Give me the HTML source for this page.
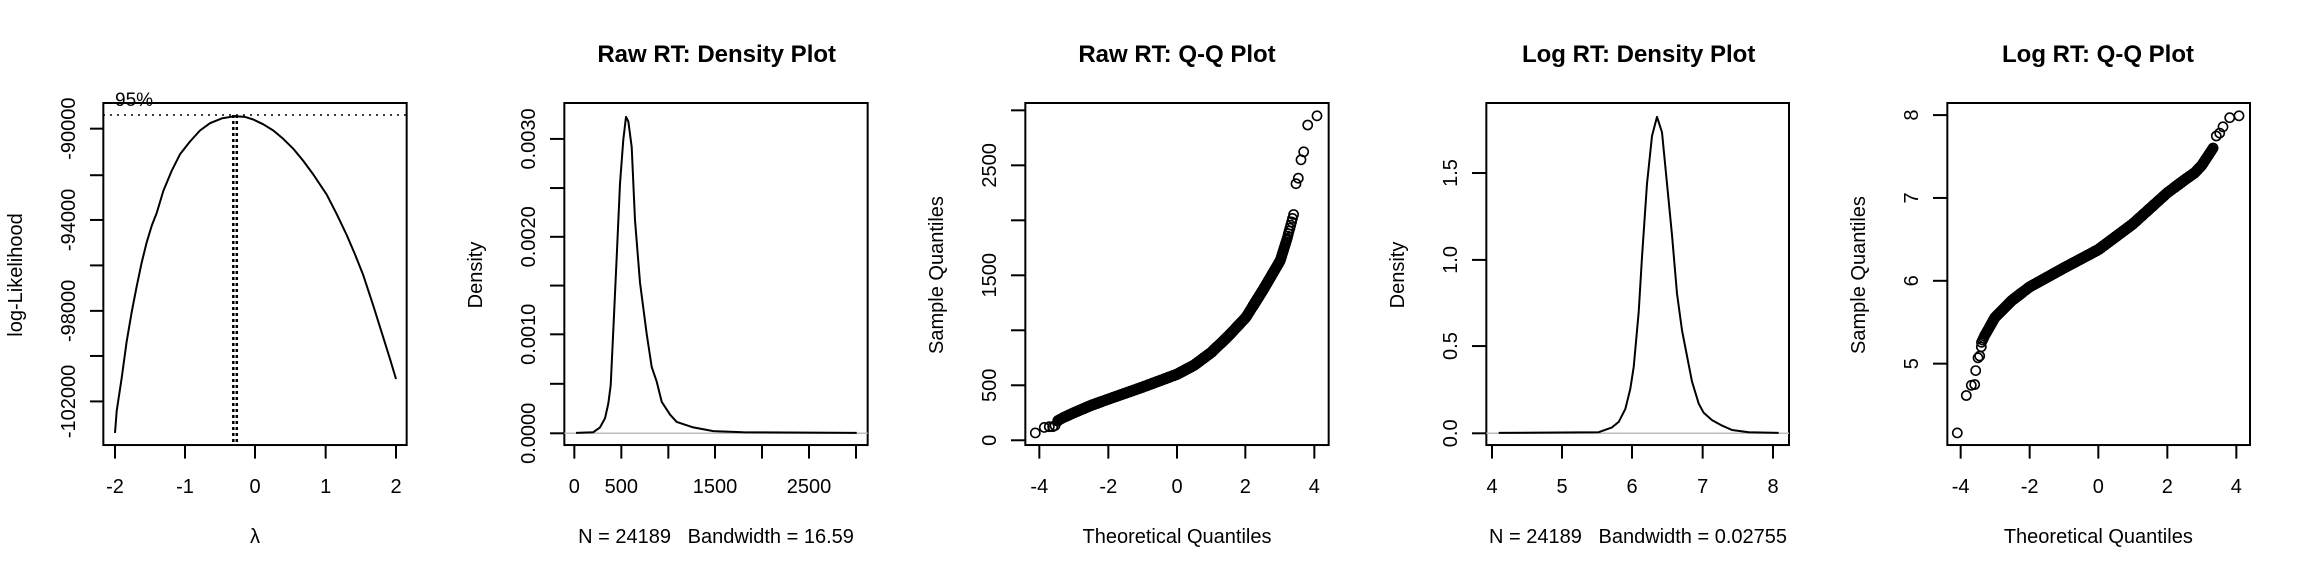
<!DOCTYPE html>
<html><head><meta charset="utf-8"><style>
html,body{margin:0;padding:0;background:#fff;}
svg{display:block;}
text{font-family:"Liberation Sans",Arial,sans-serif;fill:#000;}
</style></head><body>
<svg id="s" xmlns="http://www.w3.org/2000/svg" width="2304" height="576" viewBox="0 0 2304 576"></svg>
<script>
var s=document.getElementById('s');var out='';
function Y(zy){return 103+(zy-280)*0.3666;}
function X(off,zx){return off+zx/3;}
function box(off,l,r){out+='<rect x="'+X(off,l)+'" y="103" width="'+(r-l)/3+'" height="'+(Y(1213)-103)+'" fill="none" stroke="#000" stroke-width="2"/>';}
function xt(off,zx,lab){var x=X(off,zx);out+='<line x1="'+x+'" y1="'+Y(1213)+'" x2="'+x+'" y2="'+Y(1250)+'" stroke="#000" stroke-width="2"/>';if(lab!==null)out+='<text x="'+x+'" y="493" font-size="20" text-anchor="middle">'+lab+'</text>';}
function yt(off,zy,lab,bl){var y=Y(zy),x0=X(off,270),x1=X(off,bl);out+='<line x1="'+x0+'" y1="'+y+'" x2="'+x1+'" y2="'+y+'" stroke="#000" stroke-width="2"/>';if(lab!==null){var x=off+75;out+='<text x="'+x+'" y="'+y+'" font-size="20" text-anchor="middle" transform="rotate(-90 '+x+' '+y+')">'+lab+'</text>';}}
function ylab(off,t){var x=off+22,y=275;out+='<text x="'+x+'" y="'+y+'" font-size="20" text-anchor="middle" transform="rotate(-90 '+x+' '+y+')">'+t+'</text>';}
function title(off,cx,t){out+='<text x="'+X(off,cx)+'" y="62" font-size="24" font-weight="bold" text-anchor="middle">'+t+'</text>';}
function xlab(off,cx,t){out+='<text x="'+X(off,cx)+'" y="543" font-size="20" text-anchor="middle">'+t+'</text>';}
function poly(off,pts){var p=pts.map(function(a){return X(off,a[0]).toFixed(1)+','+Y(a[1]).toFixed(1);}).join(' ');out+='<polyline points="'+p+'" fill="none" stroke="#000" stroke-width="2" stroke-linejoin="round"/>';}
// Panel 1
var o=0;box(o,310,1220);
[[345,'-2'],[555,'-1'],[765,'0'],[977,'1'],[1188,'2']].forEach(function(a){xt(o,a[0],a[1]);});
[[350,'-90000'],[477,null],[599,'-94000'],[723,null],[847,'-98000'],[970,null],[1094,'-102000']].forEach(function(a){yt(o,a[0],a[1],310);});
poly(o,[[345,1180],[350,1120],[365,1030],[380,930],[395,850],[410,780],[425,715],[440,660],[455,615],[470,580],[490,520],[515,465],[540,420],[570,385],[600,355],[630,335],[665,322],[705,316],[735,318],[760,325],[790,338],[820,355],[850,378],[880,405],[910,438],[940,475],[980,530],[1010,583],[1040,640],[1065,693],[1090,750],[1120,833],[1150,920],[1170,978],[1188,1033]]);
out+='<line x1="103" y1="115" x2="407" y2="115" stroke="#000" stroke-width="1.5" stroke-dasharray="2,5"/>';
out+='<line x1="233.3" y1="115" x2="233.3" y2="446" stroke="#000" stroke-width="2.5" stroke-dasharray="3,3"/>';
out+='<line x1="236.8" y1="115" x2="236.8" y2="446" stroke="#000" stroke-width="2.5" stroke-dasharray="3,3"/>';
out+='<text x="115" y="106" font-size="19">95%</text>';
ylab(o,'log-Likelihood');
out+='<text x="255" y="543" font-size="20" text-anchor="middle">λ</text>';
// Panel 2
o=460;box(o,313,1223);title(o,770,'Raw RT: Density Plot');
[[343,'0'],[484,'500'],[625,null],[765,'1500'],[906,null],[1047,'2500'],[1188,null]].forEach(function(a){xt(o,a[0],a[1]);});
[[1181,'0.0000'],[1046,null],[911,'0.0010'],[778,null],[645,'0.0020'],[512,null],[378,'0.0030']].forEach(function(a){yt(o,a[0],a[1],313);});
out+='<line x1="'+X(o,313)+'" y1="'+Y(1181)+'" x2="'+X(o,1223)+'" y2="'+Y(1181)+'" stroke="#bebebe" stroke-width="1.5"/>';
poly(o,[[348,1180],[400,1178],[420,1165],[435,1140],[445,1100],[452,1050],[460,900],[470,700],[480,500],[490,380],[498,318],[505,330],[515,400],[525,600],[540,770],[560,910],[575,1000],[590,1040],[605,1095],[630,1130],[650,1150],[700,1165],[760,1175],[850,1178],[1190,1180]]);
ylab(o,'Density');xlab(o,768,'N = 24189&#160;&#160;&#160;Bandwidth = 16.59');
// QQ helper
function qnorm(p){var a=[-39.69683028665376,220.9460984245205,-275.9285104469687,138.3577518672690,-30.66479806614716,2.506628277459239],b=[-54.47609879822406,161.5858368580409,-155.6989798598866,66.80131188771972,-13.28068155288572],c=[-7.784894002430293e-03,-0.3223964580411365,-2.400758277161838,-2.549732539343734,4.374664141464968,2.938163982698783],d=[7.784695709041462e-03,0.3224671290700398,2.445134137142996,3.754408661907416],q,r;
if(p<0.02425){q=Math.sqrt(-2*Math.log(p));return(((((c[0]*q+c[1])*q+c[2])*q+c[3])*q+c[4])*q+c[5])/((((d[0]*q+d[1])*q+d[2])*q+d[3])*q+1);}
if(p>1-0.02425){q=Math.sqrt(-2*Math.log(1-p));return-(((((c[0]*q+c[1])*q+c[2])*q+c[3])*q+c[4])*q+c[5])/((((d[0]*q+d[1])*q+d[2])*q+d[3])*q+1);}
q=p-0.5;r=q*q;return(((((a[0]*r+a[1])*r+a[2])*r+a[3])*r+a[4])*r+a[5])*q/(((((b[0]*r+b[1])*r+b[2])*r+b[3])*r+b[4])*r+1);}
function interp(an,q){for(var i=0;i<an.length-1;i++){if(q<=an[i+1][0]){var t=(q-an[i][0])/(an[i+1][0]-an[i][0]);return an[i][1]+t*(an[i+1][1]-an[i][1]);}}return an[an.length-1][1];}
function circ(x,y){out+='<circle cx="'+x.toFixed(1)+'" cy="'+y.toFixed(1)+'" r="4.6" fill="none" stroke="#000" stroke-width="1.6"/>';}
function qq(off,x0z,perz,an,extra,qlo,qhi){var N=24189;
for(var i=0;i<N;i++){var p=(i+0.5)/N;var q=qnorm(p);if(q<qlo||q>qhi)continue;
 if(Math.abs(q)<2.2 && i%12!==0)continue;
 var zy=interp(an,q);circ(X(off,x0z+q*perz),Y(zy));}
extra.forEach(function(e){circ(X(off,e[0]),Y(e[1]));});}
// Panel 3
o=921;box(o,313,1223);title(o,768,'Raw RT: Q-Q Plot');
[[355,'-4'],[562,'-2'],[768,'0'],[973,'2'],[1180,'4']].forEach(function(a){xt(o,a[0],a[1]);});
[[1200,'0'],[1050,'500'],[900,null],[750,'1500'],[600,null],[450,'2500'],[300,null]].forEach(function(a){yt(o,a[0],a[1],313);});
qq(o,768,103.2,[[-3.5,1148],[-3.3,1138],[-3,1125],[-2.5,1105],[-2,1088],[-1,1055],[0,1020],[0.5,995],[1,960],[1.5,915],[2,865],[2.5,790],[3,710],[3.2,650],[3.4,580]],
[[343,1180],[370,1165],[385,1163],[395,1163],[402,1160],[410,1148],[1125,500],[1132,485],[1140,435],[1148,413],[1160,340],[1188,315]],-3.5,3.4);
ylab(o,'Sample Quantiles');xlab(o,768,'Theoretical Quantiles');
// Panel 4
o=1382;box(o,313,1221);title(o,770,'Log RT: Density Plot');
[[330,'4'],[540,'5'],[750,'6'],[962,'7'],[1173,'8']].forEach(function(a){xt(o,a[0],a[1]);});
[[1181,'0.0'],[943,'0.5'],[708,'1.0'],[471,'1.5']].forEach(function(a){yt(o,a[0],a[1],313);});
out+='<line x1="'+X(o,313)+'" y1="'+Y(1181)+'" x2="'+X(o,1221)+'" y2="'+Y(1181)+'" stroke="#bebebe" stroke-width="1.5"/>';
poly(o,[[350,1180],[650,1178],[690,1165],[710,1150],[730,1115],[745,1060],[755,1000],[770,850],[780,700],[795,500],[810,370],[825,318],[840,360],[855,500],[870,640],[885,800],[900,900],[915,970],[930,1040],[950,1100],[965,1125],[990,1145],[1020,1160],[1050,1172],[1100,1178],[1190,1180]]);
ylab(o,'Density');xlab(o,768,'N = 24189&#160;&#160;&#160;Bandwidth = 0.02755');
// Panel 5
o=1843;box(o,313,1221);title(o,765,'Log RT: Q-Q Plot');
[[353,'-4'],[560,'-2'],[766,'0'],[973,'2'],[1180,'4']].forEach(function(a){xt(o,a[0],a[1]);});
[[991,'5'],[765,'6'],[539,'7'],[313,'8']].forEach(function(a){yt(o,a[0],a[1],313);});
qq(o,766,103.4,[[-3.4,935],[-3.3,915],[-3,865],[-2.5,818],[-2,782],[-1,730],[0,680],[1,610],[2,525],[2.5,490],[2.8,470],[3,450],[3.35,400]],
[[343,1180],[370,1078],[385,1050],[395,1048],[398,1010],[405,975],[410,970],[415,945],[1120,370],[1130,362],[1140,345],[1160,320],[1188,315]],-3.4,3.35);
ylab(o,'Sample Quantiles');xlab(o,766,'Theoretical Quantiles');
s.innerHTML=out;
</script>
</body></html>
